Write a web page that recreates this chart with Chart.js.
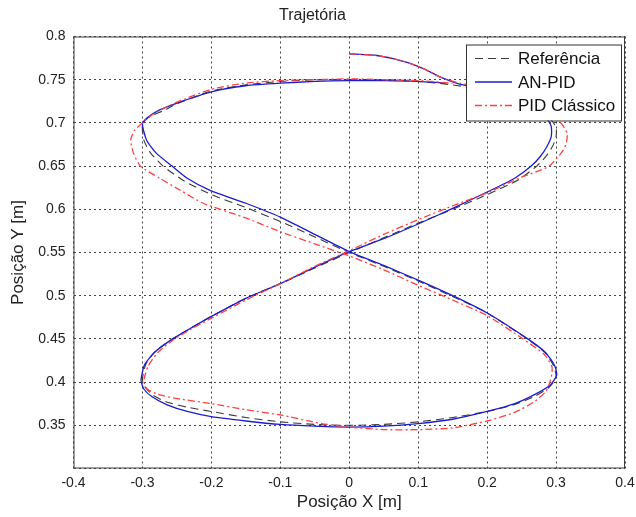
<!DOCTYPE html>
<html>
<head>
  <title>Trajetória</title>
  <script src="https://cdn.jsdelivr.net/npm/chart.js"></script>
  <style>
    body { margin: 0; background: #fff; }
    #wrap { width: 636px; height: 517px; }
  </style>
</head>
<body>
<div id="wrap"><canvas id="traj-chart"></canvas></div>
<script>
// tick labels
var xTicks = [-0.4, -0.3, -0.2, -0.1, 0, 0.1, 0.2, 0.3, 0.4];
var yTicks = [0.3, 0.35, 0.4, 0.45, 0.5, 0.55, 0.6, 0.65, 0.7, 0.75, 0.8];
var yTickLabels = ['', '0.35', '0.4', '0.45', '0.5', '0.55', '0.6', '0.65', '0.7', '0.75', '0.8'];
var seriesNames = ['Referência', 'AN-PID', 'PID Clássico'];

// Referência
var refX = [0.000,0.050,0.100,0.150,0.200,0.240,0.270,0.290,0.300,0.300,0.295,0.285,0.272,0.245,0.200,0.150,0.100,0.050,0.000,-0.050,-0.100,-0.150,-0.200,-0.235,-0.260,-0.282,-0.295,-0.300,-0.296,-0.285,-0.265,-0.235,-0.200,-0.150,-0.100,-0.050,0.000,0.050,0.100,0.150,0.200,0.240,0.270,0.290,0.300,0.297,0.284,0.260,0.200,0.150,0.100,0.050,0.000,-0.050,-0.100,-0.150,-0.200,-0.240,-0.270,-0.288,-0.298,-0.300,-0.290,-0.270,-0.250,-0.200,-0.150,-0.100,-0.050,0.000];
var refY = [0.750,0.750,0.748,0.744,0.737,0.728,0.717,0.706,0.695,0.684,0.673,0.661,0.650,0.634,0.617,0.600,0.584,0.567,0.550,0.532,0.514,0.497,0.476,0.460,0.448,0.435,0.421,0.403,0.394,0.385,0.377,0.371,0.366,0.359,0.354,0.351,0.350,0.351,0.354,0.359,0.366,0.374,0.384,0.394,0.405,0.418,0.434,0.449,0.480,0.499,0.517,0.534,0.550,0.568,0.586,0.602,0.617,0.633,0.650,0.665,0.680,0.699,0.707,0.714,0.722,0.737,0.744,0.748,0.750,0.750];

// AN-PID
var anX = [0.000,0.040,0.080,0.110,0.135,0.160,0.200,0.240,0.268,0.285,0.293,0.293,0.287,0.278,0.264,0.240,0.200,0.150,0.100,0.050,0.000,-0.050,-0.100,-0.150,-0.200,-0.235,-0.260,-0.283,-0.297,-0.302,-0.298,-0.286,-0.265,-0.235,-0.200,-0.150,-0.100,-0.050,0.000,0.050,0.100,0.150,0.200,0.240,0.270,0.292,0.301,0.298,0.285,0.259,0.200,0.150,0.100,0.050,0.000,-0.050,-0.100,-0.150,-0.202,-0.235,-0.257,-0.280,-0.294,-0.300,-0.293,-0.275,-0.250,-0.200,-0.150,-0.100,-0.050,0.000,0.050,0.100,0.140];
var anY = [0.780,0.778,0.771,0.762,0.752,0.745,0.739,0.729,0.718,0.707,0.696,0.684,0.673,0.662,0.650,0.636,0.620,0.601,0.583,0.566,0.551,0.533,0.514,0.497,0.476,0.460,0.448,0.434,0.420,0.402,0.392,0.383,0.374,0.366,0.360,0.355,0.351,0.349,0.348,0.349,0.352,0.357,0.366,0.375,0.386,0.397,0.408,0.419,0.434,0.450,0.480,0.500,0.518,0.535,0.551,0.571,0.591,0.607,0.622,0.636,0.650,0.665,0.680,0.699,0.706,0.715,0.723,0.736,0.743,0.746,0.748,0.749,0.749,0.748,0.746];

// PID Clássico
var pidX = [0.000,0.040,0.080,0.110,0.135,0.160,0.200,0.240,0.270,0.293,0.308,0.316,0.315,0.310,0.301,0.290,0.270,0.249,0.200,0.150,0.100,0.050,0.000,-0.050,-0.100,-0.150,-0.200,-0.230,-0.255,-0.278,-0.292,-0.298,-0.293,-0.278,-0.250,-0.200,-0.150,-0.100,-0.040,0.000,0.050,0.100,0.150,0.200,0.240,0.268,0.285,0.291,0.294,0.294,0.283,0.252,0.200,0.150,0.100,0.050,0.000,-0.050,-0.100,-0.150,-0.212,-0.245,-0.275,-0.303,-0.313,-0.317,-0.312,-0.300,-0.285,-0.250,-0.200,-0.150,-0.100,-0.050,0.000,0.050,0.100,0.150];
var pidY = [0.780,0.778,0.771,0.762,0.752,0.746,0.740,0.731,0.721,0.710,0.699,0.688,0.677,0.668,0.659,0.650,0.643,0.637,0.619,0.604,0.588,0.571,0.552,0.534,0.514,0.495,0.474,0.461,0.449,0.434,0.418,0.401,0.392,0.386,0.381,0.375,0.368,0.362,0.352,0.348,0.345,0.345,0.347,0.355,0.365,0.377,0.389,0.400,0.410,0.418,0.432,0.450,0.477,0.495,0.512,0.530,0.546,0.560,0.574,0.590,0.607,0.622,0.636,0.650,0.665,0.680,0.691,0.700,0.710,0.724,0.739,0.746,0.749,0.750,0.751,0.750,0.749,0.746];

function pts(xs, ys) {
  return xs.map(function (x, i) { return { x: x, y: ys[i] }; });
}

var styles = [
  { color: '#3a3a3a', dash: [8, 5], width: 1.1 },
  { color: '#1c1ccf', dash: [], width: 1.3 },
  { color: '#ff4040', dash: [7, 3, 2, 3], width: 1.3 }
];

var fontFamily = '"Liberation Sans", Arial, sans-serif';

// box round the plot + legend on top of the lines
var boxAndLegend = {
  id: 'boxAndLegend',
  afterDatasetsDraw: function (chart) {
    var ctx = chart.ctx, a = chart.chartArea;
    ctx.save();
    ctx.strokeStyle = '#3c3c3c';
    ctx.lineWidth = 1;
    ctx.setLineDash([]);
    ctx.strokeRect(a.left + 0.5, a.top + 0.5, a.right - a.left - 1, a.bottom - a.top - 1);

    var lx = 466, ly = a.top + 8, lw = a.right - 4 - lx, lh = 76;
    ctx.fillStyle = '#fff';
    ctx.fillRect(lx, ly, lw, lh);
    ctx.strokeStyle = '#333';
    ctx.strokeRect(lx + 0.5, ly + 0.5, lw, lh);
    ctx.font = '17px ' + fontFamily;
    ctx.textBaseline = 'middle';
    chart.data.datasets.forEach(function (ds, i) {
      var y = ly + 14 + i * 23.5;
      var s = styles[i];
      ctx.beginPath();
      ctx.strokeStyle = s.color;
      ctx.lineWidth = s.width;
      ctx.setLineDash(s.dash);
      ctx.moveTo(lx + 9, y);
      ctx.lineTo(lx + 46, y);
      ctx.stroke();
      ctx.setLineDash([]);
      ctx.fillStyle = '#111';
      ctx.fillText(ds.label, lx + 52, y + 1);
    });
    ctx.restore();
  }
};

var ctx = document.getElementById('traj-chart').getContext('2d');
var chart = new Chart(ctx, {
  type: 'scatter',
  data: {
    datasets: [
      { label: seriesNames[0], data: pts(refX, refY), order: 3 },
      { label: seriesNames[1], data: pts(anX, anY), order: 2 },
      { label: seriesNames[2], data: pts(pidX, pidY), order: 1 }
    ].map(function (ds, i) {
      ds.showLine = true;
      ds.pointRadius = 0;
      ds.borderColor = styles[i].color;
      ds.borderDash = styles[i].dash;
      ds.borderWidth = styles[i].width;
      ds.tension = 0.2;
      ds.fill = false;
      return ds;
    })
  },
  options: {
    responsive: true,
    maintainAspectRatio: false,
    animation: false,
    layout: { padding: { left: 0, right: 11, top: 0, bottom: 0 } },
    plugins: {
      legend: { display: false },
      tooltip: { enabled: false },
      title: {
        display: true,
        text: 'Trajetória',
        color: '#222',
        font: { family: fontFamily, size: 16, weight: 'normal' },
        padding: { top: 5.5, bottom: 11.8 }
      }
    },
    scales: {
      x: {
        type: 'linear',
        min: -0.4,
        max: 0.4,
        afterBuildTicks: function (scale) {
          scale.ticks = xTicks.map(function (v) { return { value: v }; });
        },
        afterFit: function (scale) {
          scale.height = 48.5;
          scale.paddingRight = 0;
        },
        ticks: {
          color: '#222',
          padding: 6,
          maxRotation: 0,
          font: { family: fontFamily, size: 14 },
          callback: function (v) { return String(Math.round(v * 10) / 10); }
        },
        grid: { color: '#444', lineWidth: 1, drawTicks: false },
        border: { display: false, dash: [2, 3] },
        title: {
          display: true,
          text: 'Posição X [m]',
          color: '#222',
          font: { family: fontFamily, size: 17 },
          padding: { top: 0, bottom: 4 }
        }
      },
      y: {
        type: 'linear',
        min: 0.3,
        max: 0.8,
        afterBuildTicks: function (scale) {
          scale.ticks = yTicks.map(function (v) { return { value: v }; });
        },
        afterFit: function (scale) { scale.width = 73.5; },
        ticks: {
          color: '#222',
          padding: 8,
          font: { family: fontFamily, size: 14 },
          callback: function (v, i) { return yTickLabels[i]; }
        },
        grid: { color: '#444', lineWidth: 1, drawTicks: false },
        border: { display: false, dash: [2, 3] },
        title: {
          display: true,
          text: 'Posição Y [m]',
          color: '#222',
          font: { family: fontFamily, size: 17 },
          padding: { top: 8, bottom: 0 }
        }
      }
    }
  },
  plugins: [boxAndLegend]
});
</script>
</body>
</html>
